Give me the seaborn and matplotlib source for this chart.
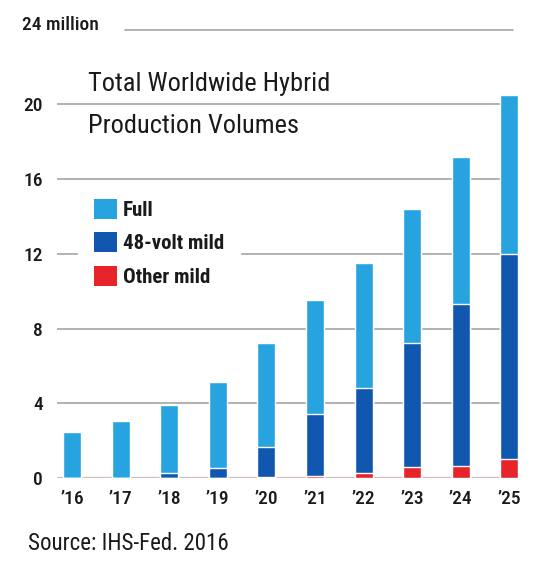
import numpy as np
import matplotlib.pyplot as plt
import seaborn as sns
from matplotlib import font_manager
from matplotlib.patches import Patch

# Data (million units)
years = ["’16", "’17", "’18", "’19", "’20", "’21", "’22", "’23", "’24", "’25"]
full = [2.45, 3.05, 3.63, 4.58, 5.56, 6.1, 6.7, 7.2, 7.9, 8.5]
volt48_mild = [0.0, 0.0, 0.27, 0.53, 1.63, 3.3, 4.55, 6.6, 8.65, 11.0]
other_mild = [0.0, 0.0, 0.0, 0.02, 0.03, 0.1, 0.25, 0.6, 0.65, 1.0]
series_labels = ["Full", "48-volt mild", "Other mild"]
y_ticks = [0, 4, 8, 12, 16, 20]

colors = {"Full": "#27a4e0", "48-volt mild": "#1157b0", "Other mild": "#e8242b"}
text_color = "#1a1a1a"
grid_color = "#a4a4a4"

sns.set_style("white")
avail = {f.name for f in font_manager.fontManager.ttflist}
narrow = next((f for f in ["Roboto Condensed", "Liberation Sans Narrow", "DejaVu Sans"]
               if f in avail), "DejaVu Sans")
plt.rcParams["font.family"] = [narrow, "DejaVu Sans"]

fig = plt.figure(figsize=(5.5, 5.69), dpi=100)
ax = fig.add_axes([57 / 550, 91 / 569, 461 / 550, 448.5 / 569])

# stacked bars: draw cumulative totals from the top layer down
other = np.array(other_mild)
mild_top = other + np.array(volt48_mild)
total = mild_top + np.array(full)

sns.barplot(x=years, y=total, color=colors["Full"], saturation=1, width=0.37, ax=ax, zorder=3)
sns.barplot(x=years, y=mild_top, color=colors["48-volt mild"], saturation=1, width=0.37, ax=ax, zorder=3)
sns.barplot(x=years, y=other, color=colors["Other mild"], saturation=1, width=0.37, ax=ax, zorder=3)

ax.set_xlim(-0.31, 9.18)
ax.set_ylim(0, 24)
ax.set_yticks(y_ticks)
ax.set_yticklabels([str(t) for t in y_ticks])
ax.tick_params(axis="y", length=0, pad=10, labelsize=14, labelcolor=text_color)
ax.tick_params(axis="x", length=0, pad=9, labelsize=14, labelcolor=text_color)
for lab in ax.get_xticklabels() + ax.get_yticklabels():
    lab.set_fontweight("medium")
ax.set_xlabel("")
ax.set_ylabel("")
sns.despine(ax=ax, left=True, bottom=True)

# gridlines
ax.set_axisbelow(True)
ax.yaxis.grid(True, color=grid_color, linewidth=1.2)
ax.axhline(0, color="#d2bcbc", linewidth=1.6, zorder=2)
ax.axhline(24, xmin=0.147, xmax=0.99, color=grid_color, linewidth=1.2, clip_on=False)
fig.text(22 / 550, 1 - 25 / 569, "24 million", fontsize=14, fontweight="medium",
         va="center", color=text_color)

# title
fig.text(88 / 550, 1 - 91 / 569, "Total Worldwide Hybrid", fontsize=19,
         va="baseline", color=text_color)
fig.text(88 / 550, 1 - 133 / 569, "Production Volumes", fontsize=19,
         va="baseline", color=text_color)

# legend
handles = [Patch(facecolor=colors[s], edgecolor="none", label=s) for s in series_labels]
leg = ax.legend(handles=handles, loc="upper left",
                bbox_to_anchor=(78 / 550, 1 - 183 / 569), bbox_transform=fig.transFigure,
                frameon=True, framealpha=1, facecolor="white", edgecolor="white",
                borderaxespad=0, borderpad=0.75, handlelength=1.1, handleheight=1.1,
                handletextpad=0.3, labelspacing=0.6,
                prop={"size": 15, "weight": "bold"})
leg.set_zorder(5)
for t in leg.get_texts():
    t.set_color(text_color)

# source
fig.text(28 / 550, 1 - 550 / 569, "Source: IHS-Fed. 2016", fontsize=16.5,
         va="baseline", color=text_color)

fig.savefig("out.png", dpi=100)
